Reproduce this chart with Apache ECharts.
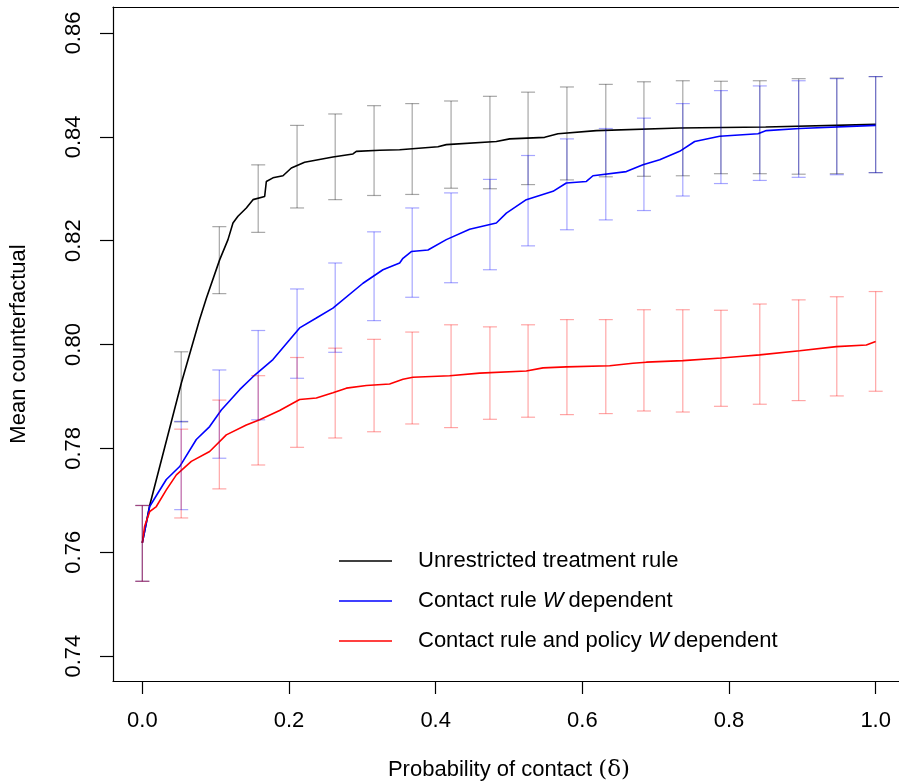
<!DOCTYPE html>
<html><head><meta charset="utf-8">
<script src="https://cdn.jsdelivr.net/npm/echarts@6/dist/echarts.min.js"></script>
<style>html,body{margin:0;padding:0;background:#fff;overflow:hidden}#c{width:899px;height:784px}</style>
</head><body><div id="c"></div>
<script>
const xTicks = [0, 0.2, 0.4, 0.6, 0.8, 1.0];
const yTicks = [0.74, 0.76, 0.78, 0.80, 0.82, 0.84, 0.86];
const seriesNames = ['Unrestricted treatment rule', 'Contact rule W dependent', 'Contact rule and policy W dependent'];

const unrestricted = [[0,0.7618],[0.01,0.7690],[0.0532,0.7926],[0.0781,0.8048],[0.0873,0.8089],[0.1054,0.8163],[0.1168,0.8202],[0.1236,0.8234],[0.1304,0.8247],[0.1418,0.8263],[0.1509,0.8279],[0.1668,0.8285],[0.1691,0.8314],[0.1781,0.8321],[0.1918,0.8325],[0.2032,0.8340],[0.2213,0.8351],[0.2599,0.8361],[0.2872,0.8367],[0.2918,0.8372],[0.3236,0.8374],[0.3509,0.8375],[0.4031,0.8381],[0.4145,0.8385],[0.4827,0.8391],[0.5009,0.8396],[0.5486,0.8399],[0.5668,0.8406],[0.6191,0.8412],[0.7327,0.8417],[0.85,0.8419],[1.0,0.8424]];
const contactW = [[0,0.7618],[0.01,0.7688],[0.0213,0.7714],[0.0327,0.7740],[0.0509,0.7765],[0.0736,0.7817],[0.0918,0.7842],[0.1077,0.7874],[0.1327,0.7913],[0.1509,0.7938],[0.1781,0.7971],[0.2009,0.8009],[0.2145,0.8032],[0.2373,0.8051],[0.2599,0.8070],[0.3009,0.8118],[0.3281,0.8144],[0.3509,0.8157],[0.3554,0.8166],[0.3668,0.8179],[0.3895,0.8182],[0.4145,0.8202],[0.4463,0.8222],[0.4827,0.8234],[0.4964,0.8253],[0.5236,0.8279],[0.56,0.8295],[0.5782,0.8311],[0.6055,0.8314],[0.6145,0.8325],[0.66,0.8333],[0.6827,0.8346],[0.7055,0.8356],[0.7327,0.8372],[0.7532,0.8391],[0.7873,0.8401],[0.8395,0.8406],[0.8509,0.8412],[0.8964,0.8416],[1.0,0.8422]];
const contactPolicyW = [[0,0.7618],[0.0031,0.7650],[0.01,0.7678],[0.0191,0.7688],[0.0327,0.7720],[0.0464,0.7749],[0.0668,0.7775],[0.0918,0.7794],[0.1145,0.7826],[0.1418,0.7845],[0.16,0.7855],[0.1872,0.7873],[0.2145,0.7894],[0.2373,0.7897],[0.2599,0.7907],[0.2782,0.7916],[0.3055,0.7921],[0.3372,0.7924],[0.3554,0.7933],[0.369,0.7937],[0.4191,0.7940],[0.46,0.7945],[0.5236,0.7949],[0.5464,0.7955],[0.5782,0.7957],[0.6373,0.7959],[0.669,0.7964],[0.6873,0.7966],[0.7373,0.7969],[0.7896,0.7974],[0.8145,0.7977],[0.8418,0.7980],[0.8964,0.7988],[0.9464,0.7996],[0.9873,0.7999],[1.0,0.8006]];

const barX = [0,0.053,0.105,0.158,0.211,0.263,0.316,0.368,0.421,0.474,0.526,0.579,0.632,0.684,0.737,0.789,0.842,0.895,0.947,1.0];
const unrestrictedLow  = [0.7544,0.7851,0.8098,0.8216,0.8263,0.8279,0.8287,0.8289,0.8301,0.8300,0.8308,0.8317,0.8323,0.8324,0.8325,0.8329,0.8329,0.8328,0.8329,0.8331];
const unrestrictedHigh = [0.7690,0.7986,0.8227,0.8346,0.8422,0.8444,0.8460,0.8464,0.8469,0.8478,0.8486,0.8496,0.8501,0.8506,0.8508,0.8507,0.8508,0.8512,0.8513,0.8516];
const contactWLow  = [0.7544,0.7682,0.7781,0.7855,0.7935,0.7985,0.8046,0.8091,0.8119,0.8144,0.8190,0.8221,0.8240,0.8258,0.8286,0.8310,0.8316,0.8322,0.8327,0.8331];
const contactWHigh = [0.7690,0.7852,0.7951,0.8027,0.8107,0.8157,0.8217,0.8263,0.8292,0.8318,0.8364,0.8396,0.8416,0.8436,0.8464,0.8489,0.8498,0.8508,0.8512,0.8516];
const contactPolicyWLow  = [0.7544,0.7666,0.7722,0.7768,0.7802,0.7820,0.7832,0.7847,0.7840,0.7856,0.7860,0.7865,0.7867,0.7872,0.7870,0.7881,0.7885,0.7892,0.7901,0.7910];
const contactPolicyWHigh = [0.7690,0.7837,0.7893,0.7940,0.7975,0.7993,0.8010,0.8024,0.8038,0.8034,0.8038,0.8048,0.8048,0.8067,0.8067,0.8066,0.8078,0.8086,0.8092,0.8102];

const FONT = "'Liberation Sans', Arial, Helvetica, sans-serif";
const FS = 22;

function barData(lo, hi) { return barX.map((x, i) => [x, lo[i], hi[i]]); }
function errRender(color) {
  return function (params, api) {
    const x = api.value(0), lo = api.value(1), hi = api.value(2);
    const a = api.coord([x, lo]), b = api.coord([x, hi]);
    const w = 7;
    const st = { stroke: color, lineWidth: 1.2 };
    return { type: 'group', children: [
      { type: 'line', shape: { x1: a[0], y1: a[1], x2: b[0], y2: b[1] }, style: st },
      { type: 'line', shape: { x1: a[0] - w, y1: a[1], x2: a[0] + w, y2: a[1] }, style: st },
      { type: 'line', shape: { x1: b[0] - w, y1: b[1], x2: b[0] + w, y2: b[1] }, style: st }
    ]};
  };
}

const axisLineStyle = { color: '#000', width: 1.2 };
const chart = echarts.init(document.getElementById('c'), null, { renderer: 'canvas' });
chart.setOption({
  animation: false,
  backgroundColor: '#fff',
  grid: { left: 113, top: 7, width: 792, height: 674, outerBoundsMode: 'none', containLabel: false, show: false },
  xAxis: [{
    type: 'value', min: -0.04, max: 1.04,
    splitLine: { show: false },
    axisLine: { show: true, onZero: false, lineStyle: axisLineStyle },
    axisTick: { show: true, customValues: xTicks, length: 13, lineStyle: axisLineStyle },
    axisLabel: { customValues: xTicks, formatter: v => v.toFixed(1), fontSize: FS, fontFamily: FONT, color: '#000', margin: 29 }
  }, {
    type: 'value', position: 'top', min: -0.04, max: 1.04,
    splitLine: { show: false },
    axisLine: { show: true, onZero: false, lineStyle: axisLineStyle },
    axisTick: { show: false }, axisLabel: { show: false }
  }],
  yAxis: {
    type: 'value', min: 0.7352, max: 0.8650,
    splitLine: { show: false },
    axisLine: { show: true, onZero: false, lineStyle: axisLineStyle },
    axisTick: { show: true, customValues: yTicks, length: 13, lineStyle: axisLineStyle },
    axisLabel: { customValues: yTicks, formatter: v => v.toFixed(2), fontSize: FS, fontFamily: FONT, color: '#000', rotate: 90, margin: 28 }
  },
  series: [
    { name: seriesNames[0], type: 'line', data: unrestricted, showSymbol: false, lineStyle: { color: '#000', width: 1.6 }, z: 3 },
    { name: seriesNames[1], type: 'line', data: contactW, showSymbol: false, lineStyle: { color: '#0000ff', width: 1.6 }, z: 3 },
    { name: seriesNames[2], type: 'line', data: contactPolicyW, showSymbol: false, lineStyle: { color: '#ff0000', width: 1.6 }, z: 3 },
    { type: 'custom', data: barData(unrestrictedLow, unrestrictedHigh), renderItem: errRender('rgba(0,0,0,0.35)'), silent: true, z: 4 },
    { type: 'custom', data: barData(contactWLow, contactWHigh), renderItem: errRender('rgba(0,0,255,0.35)'), silent: true, z: 4 },
    { type: 'custom', data: barData(contactPolicyWLow, contactPolicyWHigh), renderItem: errRender('rgba(255,0,0,0.35)'), silent: true, z: 4 }
  ],
  graphic: [
    { type: 'rect', shape: { x: 885, y: 9, width: 20, height: 671 }, style: { fill: '#fff' }, z: 100 },
    { type: 'line', shape: { x1: 339, y1: 561, x2: 392, y2: 561 }, style: { stroke: '#000', lineWidth: 1.6 } },
    { type: 'line', shape: { x1: 339, y1: 601, x2: 392, y2: 601 }, style: { stroke: '#0000ff', lineWidth: 1.6 } },
    { type: 'line', shape: { x1: 339, y1: 641, x2: 392, y2: 641 }, style: { stroke: '#ff0000', lineWidth: 1.6 } },
    { type: 'text', x: 418, y: 561, style: { text: 'Unrestricted treatment rule', fontSize: FS, fontFamily: FONT, fill: '#000', verticalAlign: 'middle' } },
    { type: 'text', x: 418, y: 601, style: { text: 'Contact rule {i|W}dependent', fontSize: FS, fontFamily: FONT, fill: '#000', verticalAlign: 'middle', rich: { i: { fontStyle: 'italic', fontSize: FS, fontFamily: FONT, padding: [0, 5, 0, 0] } } } },
    { type: 'text', x: 418, y: 641, style: { text: 'Contact rule and policy {i|W}dependent', fontSize: FS, fontFamily: FONT, fill: '#000', verticalAlign: 'middle', rich: { i: { fontStyle: 'italic', fontSize: FS, fontFamily: FONT, padding: [0, 5, 0, 0] } } } },
    { type: 'text', x: 509, y: 770, style: { text: 'Probability of contact {s|(δ)}', fontSize: FS, fontFamily: FONT, fill: '#000', align: 'center', verticalAlign: 'middle', rich: { s: { fontFamily: "'DejaVu Serif', 'Liberation Serif', serif", fontSize: 23 } } } },
    { type: 'text', x: 19, y: 344, rotation: Math.PI / 2, style: { text: 'Mean counterfactual', fontSize: FS, fontFamily: FONT, fill: '#000', align: 'center', verticalAlign: 'middle' } }
  ]
});
</script></body></html>
